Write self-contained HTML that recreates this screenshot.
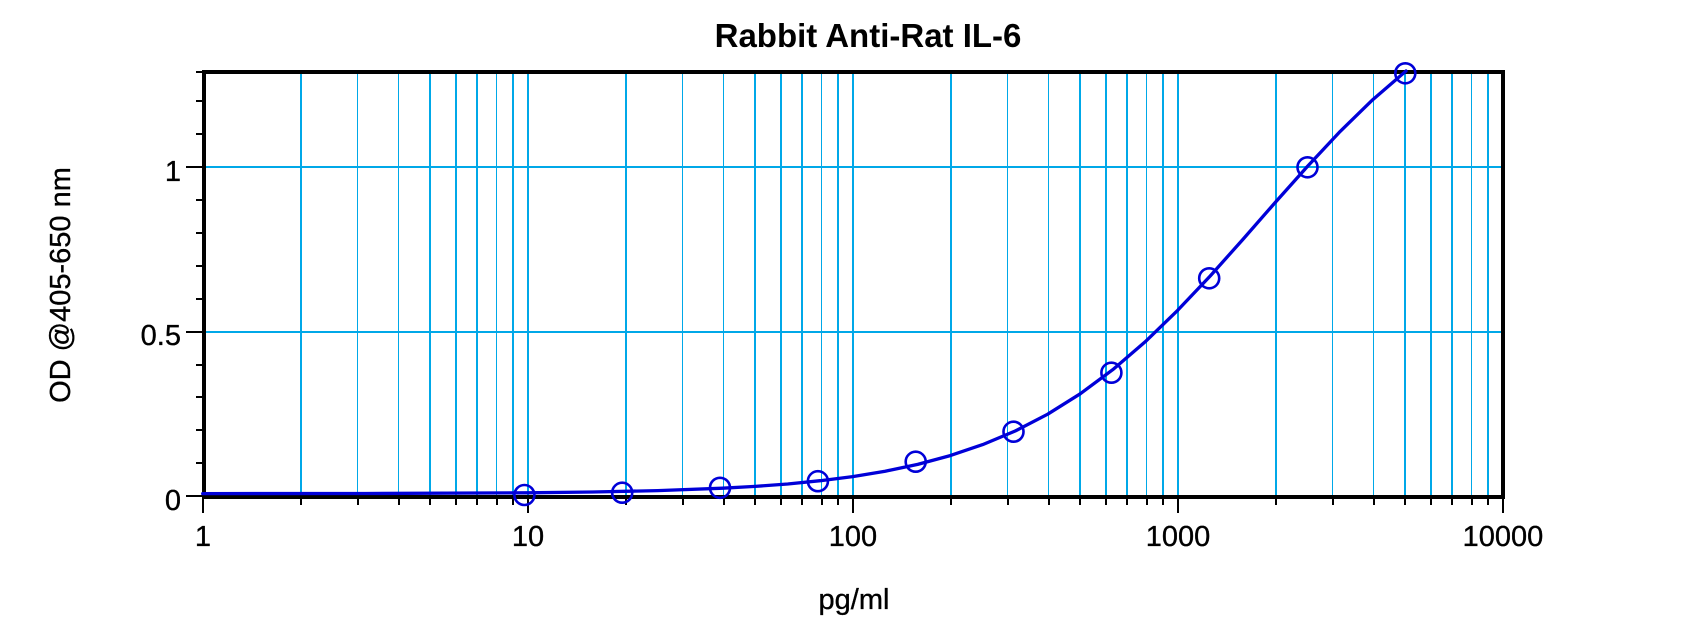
<!DOCTYPE html>
<html>
<head>
<meta charset="utf-8">
<style>
  html, body { margin: 0; padding: 0; background: #ffffff; }
  svg { display: block; }
  text { font-family: "Liberation Sans", Arial, sans-serif; fill: #000; }
</style>
</head>
<body>
<svg width="1700" height="637" viewBox="0 0 1700 637" xmlns="http://www.w3.org/2000/svg">
  <rect x="0" y="0" width="1700" height="637" fill="#ffffff"/>

  <!-- vertical grid lines -->
  <g fill="#00a8e8" shape-rendering="crispEdges">
    <!-- decade 0 -->
    <rect x="300" y="74" width="2" height="421"/>
    <rect x="357" y="74" width="1" height="421"/>
    <rect x="398" y="74" width="1" height="421"/>
    <rect x="429" y="74" width="2" height="421"/>
    <rect x="455" y="74" width="2" height="421"/>
    <rect x="476" y="74" width="2" height="421"/>
    <rect x="496" y="74" width="1" height="421"/>
    <rect x="512" y="74" width="2" height="421"/>
    <rect x="527" y="74" width="2" height="421"/>
    <!-- decade 1 -->
    <rect x="625" y="74" width="2" height="421"/>
    <rect x="682" y="74" width="1" height="421"/>
    <rect x="723" y="74" width="1" height="421"/>
    <rect x="754" y="74" width="2" height="421"/>
    <rect x="780" y="74" width="2" height="421"/>
    <rect x="801" y="74" width="2" height="421"/>
    <rect x="821" y="74" width="1" height="421"/>
    <rect x="837" y="74" width="2" height="421"/>
    <rect x="852" y="74" width="2" height="421"/>
    <!-- decade 2 -->
    <rect x="950" y="74" width="2" height="421"/>
    <rect x="1007" y="74" width="1" height="421"/>
    <rect x="1048" y="74" width="1" height="421"/>
    <rect x="1079" y="74" width="2" height="421"/>
    <rect x="1105" y="74" width="2" height="421"/>
    <rect x="1126" y="74" width="2" height="421"/>
    <rect x="1146" y="74" width="1" height="421"/>
    <rect x="1162" y="74" width="2" height="421"/>
    <rect x="1177" y="74" width="2" height="421"/>
    <!-- decade 3 -->
    <rect x="1275" y="74" width="2" height="421"/>
    <rect x="1332" y="74" width="1" height="421"/>
    <rect x="1373" y="74" width="1" height="421"/>
    <rect x="1404" y="74" width="2" height="421"/>
    <rect x="1430" y="74" width="2" height="421"/>
    <rect x="1451" y="74" width="2" height="421"/>
    <rect x="1471" y="74" width="1" height="421"/>
    <rect x="1487" y="74" width="2" height="421"/>
    <!-- horizontal grid -->
    <rect x="206" y="331" width="1295" height="2"/>
    <rect x="206" y="166" width="1295" height="2"/>
  </g>

  <!-- axes frame -->
  <g fill="#000" shape-rendering="crispEdges">
    <rect x="202" y="70" width="1303" height="4"/>
    <rect x="202" y="495" width="1303" height="4"/>
    <rect x="202" y="70" width="4" height="429"/>
    <rect x="1501" y="70" width="4" height="429"/>

    <!-- y major ticks -->
    <rect x="186" y="495" width="16" height="2"/>
    <rect x="186" y="331" width="16" height="2"/>
    <rect x="186" y="166" width="16" height="2"/>
    <!-- y minor ticks -->
    <rect x="196" y="462" width="6" height="2"/>
    <rect x="196" y="429" width="6" height="2"/>
    <rect x="196" y="396" width="6" height="2"/>
    <rect x="196" y="364" width="6" height="2"/>
    <rect x="196" y="298" width="6" height="2"/>
    <rect x="196" y="265" width="6" height="2"/>
    <rect x="196" y="232" width="6" height="2"/>
    <rect x="196" y="199" width="6" height="2"/>
    <rect x="196" y="133" width="6" height="2"/>
    <rect x="196" y="100" width="6" height="2"/>
    <rect x="196" y="71" width="6" height="2"/>

    <!-- x major ticks -->
    <rect x="202" y="499" width="2" height="14"/>
    <rect x="527" y="499" width="2" height="14"/>
    <rect x="852" y="499" width="2" height="14"/>
    <rect x="1177" y="499" width="2" height="14"/>
    <rect x="1502" y="499" width="2" height="14"/>
    <!-- x minor ticks -->
    <rect x="300" y="499" width="2" height="6"/>
    <rect x="357" y="499" width="2" height="6"/>
    <rect x="398" y="499" width="2" height="6"/>
    <rect x="429" y="499" width="2" height="6"/>
    <rect x="455" y="499" width="2" height="6"/>
    <rect x="476" y="499" width="2" height="6"/>
    <rect x="496" y="499" width="2" height="6"/>
    <rect x="512" y="499" width="2" height="6"/>
    <rect x="625" y="499" width="2" height="6"/>
    <rect x="682" y="499" width="2" height="6"/>
    <rect x="723" y="499" width="2" height="6"/>
    <rect x="754" y="499" width="2" height="6"/>
    <rect x="780" y="499" width="2" height="6"/>
    <rect x="801" y="499" width="2" height="6"/>
    <rect x="821" y="499" width="2" height="6"/>
    <rect x="837" y="499" width="2" height="6"/>
    <rect x="950" y="499" width="2" height="6"/>
    <rect x="1007" y="499" width="2" height="6"/>
    <rect x="1048" y="499" width="2" height="6"/>
    <rect x="1079" y="499" width="2" height="6"/>
    <rect x="1105" y="499" width="2" height="6"/>
    <rect x="1126" y="499" width="2" height="6"/>
    <rect x="1146" y="499" width="2" height="6"/>
    <rect x="1162" y="499" width="2" height="6"/>
    <rect x="1275" y="499" width="2" height="6"/>
    <rect x="1332" y="499" width="2" height="6"/>
    <rect x="1373" y="499" width="2" height="6"/>
    <rect x="1404" y="499" width="2" height="6"/>
    <rect x="1430" y="499" width="2" height="6"/>
    <rect x="1451" y="499" width="2" height="6"/>
    <rect x="1471" y="499" width="2" height="6"/>
    <rect x="1487" y="499" width="2" height="6"/>
  </g>

  <!-- fitted curve -->
  <path d="M202.7,493.6 L365.2,493.5 L527.7,492.8 L592.7,492.0 L657.7,490.6 L722.7,488.2 L755.2,486.4 L787.7,484.0 L820.2,480.7 L852.7,476.6 L885.2,471.2 L917.7,464.4 L950.2,455.6 L982.7,444.6 L1015.2,431.0 L1047.7,414.2 L1080.2,393.8 L1112.7,369.7 L1145.2,341.8 L1177.7,310.3 L1210.2,276.0 L1242.7,239.6 L1275.2,202.5 L1307.7,166.1 L1340.2,131.4 L1372.7,99.7 L1406,71"
        fill="none" stroke="#0000d8" stroke-width="3.3" stroke-linejoin="round" stroke-linecap="round"/>

  <!-- data points -->
  <g fill="none" stroke="#0000d8" stroke-width="2.6">
    <circle cx="524.4" cy="495" r="10"/>
    <circle cx="622.2" cy="492.7" r="10"/>
    <circle cx="720.0" cy="487.8" r="10"/>
    <circle cx="817.9" cy="481.2" r="10"/>
    <circle cx="915.7" cy="461.7" r="10"/>
    <circle cx="1013.5" cy="431.7" r="10"/>
    <circle cx="1111.4" cy="372.7" r="10"/>
    <circle cx="1209.2" cy="278.3" r="10"/>
    <circle cx="1307.5" cy="167.3" r="10"/>
    <circle cx="1405.3" cy="73.3" r="10"/>
  </g>

  <!-- title -->
  <text x="868" y="47" font-size="33" font-weight="bold" text-anchor="middle">Rabbit Anti-Rat IL-6</text>

  <g stroke="#000" stroke-width="0.35">
  <!-- y tick labels -->
  <g font-size="29" text-anchor="end">
    <text x="181" y="510">0</text>
    <text x="181" y="345">0.5</text>
    <text x="181" y="181">1</text>
  </g>

  <!-- x tick labels -->
  <g font-size="29" text-anchor="middle">
    <text x="203" y="546">1</text>
    <text x="528" y="546">10</text>
    <text x="853" y="546">100</text>
    <text x="1178" y="546">1000</text>
    <text x="1503" y="546">10000</text>
  </g>

  <!-- axis titles -->
  <text x="854" y="609" font-size="29" text-anchor="middle">pg/ml</text>
  <text transform="translate(70,285) rotate(-90)" x="0" y="0" font-size="29" text-anchor="middle">OD @405-650 nm</text>
  </g>
</svg>
</body>
</html>
